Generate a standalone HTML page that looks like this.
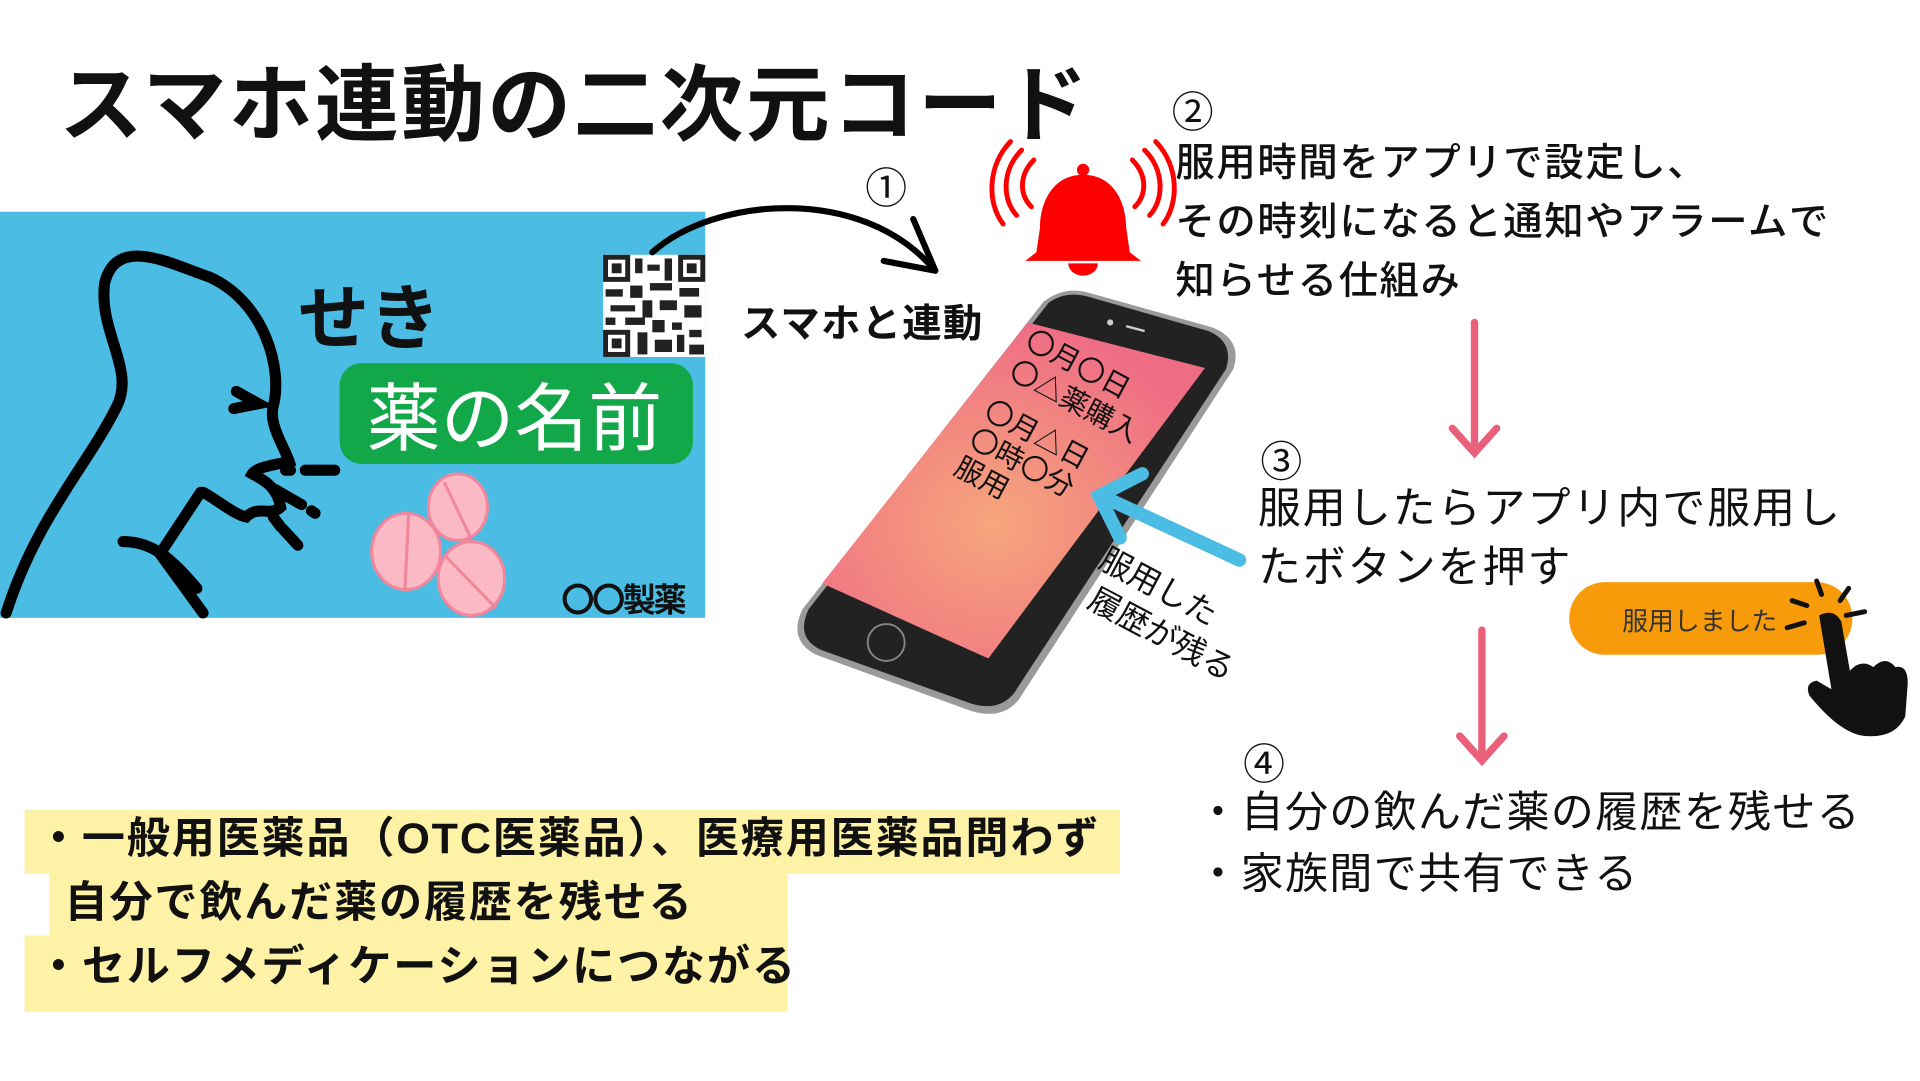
<!DOCTYPE html>
<html><head><meta charset="utf-8"><style>
html,body{margin:0;padding:0;background:#fff;overflow:hidden;width:1920px;height:1080px}
#w{position:absolute;left:0;top:0;width:1560px;height:878px;transform:scale(1.2308);transform-origin:0 0;font-family:"Liberation Sans","Noto Sans CJK JP",sans-serif}
.t{position:absolute;white-space:nowrap;color:#111}
.b{font-weight:bold}
</style></head><body><div id="w">
<div class="t b" style="left:48px;top:30px;font-size:68px;letter-spacing:2px">スマホ連動の二次元コード</div>
<div style="position:absolute;left:0;top:172px;width:573px;height:330px;background:#4bbce4"></div>
<div style="position:absolute;left:20px;top:658px;width:890px;height:52px;background:#fdf2a6"></div>
<div style="position:absolute;left:40px;top:708px;width:600px;height:54px;background:#fdf2a6"></div>
<div style="position:absolute;left:20px;top:760px;width:620px;height:62px;background:#fdf2a6"></div>
<svg style="position:absolute;left:0;top:0" width="1560" height="878">
 <g fill="none" stroke="#000" stroke-width="9" stroke-linecap="round">
  <path d="M5 498 C30 420 70 380 95 330 C110 300 80 270 85 230 C95 190 140 215 170 225 C215 245 230 300 222 330 C218 345 232 365 235 375 C220 378 208 380 205 385 C214 390 225 395 228 412 C220 420 210 410 200 420 C190 418 175 405 165 400"/>
  <path d="M163 400 L130 450 L165 498"/>
  <path d="M100 440 C125 440 140 455 160 478"/>
  <path d="M192 318 L210 328 L190 332"/>
  <path d="M248 382 L272 382 M232 382 L236 382 M224 398 L245 410 M253 415 L256 417 M222 420 L228 428 M230 430 L242 443"/>
 </g>
 <rect x="490" y="207" width="83" height="83" fill="#fff"/>
 <g fill="#222">
  <rect x="490" y="207" width="22" height="22"/><rect x="551" y="207" width="22" height="22"/><rect x="490" y="268" width="22" height="22"/>
  <rect x="494" y="211" width="14" height="14" fill="#fff"/><rect x="555" y="211" width="14" height="14" fill="#fff"/><rect x="494" y="272" width="14" height="14" fill="#fff"/>
  <rect x="497" y="214" width="8" height="8"/><rect x="558" y="214" width="8" height="8"/><rect x="497" y="275" width="8" height="8"/>
  <rect x="516" y="210" width="6" height="12"/><rect x="526" y="215" width="10" height="5"/><rect x="540" y="210" width="6" height="18"/>
  <rect x="492" y="235" width="14" height="6"/><rect x="512" y="232" width="10" height="10"/><rect x="528" y="230" width="18" height="6"/>
  <rect x="552" y="234" width="16" height="7"/><rect x="496" y="248" width="20" height="5"/><rect x="522" y="244" width="8" height="14"/>
  <rect x="536" y="244" width="14" height="8"/><rect x="556" y="248" width="14" height="10"/><rect x="492" y="258" width="8" height="6"/>
  <rect x="508" y="258" width="16" height="6"/><rect x="530" y="260" width="10" height="10"/><rect x="546" y="262" width="8" height="6"/>
  <rect x="518" y="270" width="8" height="18"/><rect x="532" y="276" width="14" height="10"/><rect x="550" y="272" width="6" height="14"/><rect x="560" y="268" width="10" height="6"/><rect x="560" y="280" width="12" height="8"/>
 </g>
 <rect x="276" y="295" width="287" height="82" rx="18" fill="#12a84a"/>
 <g stroke="#f2869b" stroke-width="2.5">
  <ellipse cx="372" cy="412" rx="24" ry="27" fill="#fbb9c5"/><line x1="361" y1="392" x2="382" y2="436"/>
  <ellipse cx="330" cy="448" rx="28" ry="31" fill="#fbb9c5"/><line x1="332" y1="418" x2="329" y2="478"/>
  <ellipse cx="383" cy="470" rx="27" ry="30" fill="#fbb9c5"/><line x1="362" y1="452" x2="403" y2="494"/>
 </g>
 <path d="M530 205 C580 160 700 150 758 218" fill="none" stroke="#000" stroke-width="5" stroke-linecap="round"/>
 <path d="M742 178 L760 220 L718 212" fill="none" stroke="#000" stroke-width="5" stroke-linecap="round" stroke-linejoin="round"/>
 <g fill="#f00">
  <path d="M880 142 C905 142 915 165 915 185 L918 205 L927 212 L833 212 L842 205 L845 185 C845 165 855 142 880 142Z"/>
  <circle cx="880" cy="138" r="5"/>
  <path d="M868 214 A12 10 0 0 0 892 214Z"/>
 </g>
 <g fill="none" stroke="#f00" stroke-width="4" stroke-linecap="round">
  <path d="M840 130 C828 142 828 158 838 168"/><path d="M830 122 C814 138 814 162 826 175"/><path d="M821 115 C802 135 802 165 815 182"/>
  <path d="M920 130 C932 142 932 158 922 168"/><path d="M930 122 C946 138 946 162 934 175"/><path d="M939 115 C958 135 958 165 945 182"/>
 </g>
 <defs><radialGradient id="g" cx="0.45" cy="0.6" r="0.6"><stop offset="0" stop-color="#f6a67c"/><stop offset="1" stop-color="#ef6d84"/></radialGradient></defs>
 <path d="M848 245 Q865 232 885 238 L985 266 Q1010 276 1002 300 L828 568 Q815 585 790 578 L663 532 Q640 520 652 495 Z" fill="#9a9a9a"/>
 <path d="M852 246 Q866 236 884 241 L982 269 Q1003 278 996 300 L824 563 Q812 578 790 572 L667 528 Q646 518 657 495 Z" fill="#222"/>
 <path d="M835 262 L979 299 L803 535 L668 474 Z" fill="url(#g)"/>
 <circle cx="902" cy="262" r="2.5" fill="#ccc"/><line x1="915" y1="265" x2="930" y2="269" stroke="#ccc" stroke-width="2"/>
 <circle cx="720" cy="522" r="15" fill="none" stroke="#888" stroke-width="1.5"/>
 <g stroke="#4bbce4" stroke-width="11" stroke-linecap="round" fill="none">
  <line x1="1007" y1="455" x2="895" y2="403"/><path d="M928 385 L893 403 L910 437"/>
 </g>
 <g stroke="#ea607a" stroke-width="6" fill="none" stroke-linecap="round">
  <line x1="1198" y1="262" x2="1198" y2="366"/><path d="M1180 348 L1198 368 L1216 348"/>
  <line x1="1204" y1="512" x2="1204" y2="616"/><path d="M1186 598 L1204 618 L1222 598"/>
 </g>
 <rect x="1275" y="473" width="230" height="59" rx="29" fill="#f79b0a"/>
 <g fill="#111">
  <path d="M1478 500 Q1490 494 1496 505 L1503 545 Q1512 535 1522 542 Q1532 532 1540 542 Q1550 540 1550 555 L1548 582 Q1540 600 1515 598 Q1495 596 1470 565 Q1466 555 1476 553 L1488 560 Z"/>
 </g>
 <g stroke="#111" stroke-width="4" stroke-linecap="round">
  <line x1="1480" y1="483" x2="1476" y2="472"/><line x1="1495" y1="488" x2="1502" y2="478"/><line x1="1500" y1="500" x2="1515" y2="497"/><line x1="1468" y1="492" x2="1456" y2="488"/><line x1="1466" y1="506" x2="1452" y2="510"/>
 </g>
</svg>
<div class="t b" style="left:242px;top:212px;font-size:58px">せき</div>
<div class="t" style="left:298px;top:292px;font-size:60px;color:#fff">薬の名前</div>
<div class="t b" style="left:456px;top:466px;font-size:27px;letter-spacing:-2px">〇〇製薬</div>
<div class="t" style="left:703px;top:126px;font-size:34px">①</div>
<div class="t b" style="left:602px;top:238px;font-size:32px;letter-spacing:1px">スマホと連動</div>
<div class="t" style="left:842px;top:262px;font-size:23px;line-height:28px;transform:rotate(28deg);transform-origin:0 0">〇月〇日<br>〇△薬購入</div>
<div class="t" style="left:808px;top:320px;font-size:23px;line-height:26px;transform:rotate(28deg);transform-origin:0 0">〇月△日<br>〇時〇分<br>服用</div>
<div class="t" style="left:903px;top:438px;font-size:26px;line-height:33px;transform:rotate(28deg);transform-origin:0 0">服用した<br>&nbsp;履歴が残る</div>
<div class="t" style="left:952px;top:64px;font-size:34px">②</div>
<div class="t" style="left:955px;top:108px;font-size:32px;line-height:48px;font-weight:500;letter-spacing:1.3px">服用時間をアプリで設定し、<br>その時刻になると通知やアラームで<br>知らせる仕組み</div>
<div class="t" style="left:1024px;top:348px;font-size:34px">③</div>
<div class="t" style="left:1022px;top:390px;font-size:35px;line-height:48px;letter-spacing:1.5px">服用したらアプリ内で服用し<br>たボタンを押す</div>
<div class="t" style="left:1318px;top:489px;font-size:21px;color:#333">服用しました</div>
<div class="t" style="left:1010px;top:594px;font-size:34px">④</div>
<div class="t" style="left:972px;top:636px;font-size:35px;line-height:50px;letter-spacing:1px">・自分の飲んだ薬の履歴を残せる<br>・家族間で共有できる</div>
<div class="t b" style="left:30px;top:656px;font-size:35px;line-height:52px;letter-spacing:1.5px">・一般用医薬品（OTC医薬品）、医療用医薬品問わず<br>&nbsp;&nbsp;自分で飲んだ薬の履歴を残せる<br>・セルフメディケーションにつながる</div>
</div></body></html>
